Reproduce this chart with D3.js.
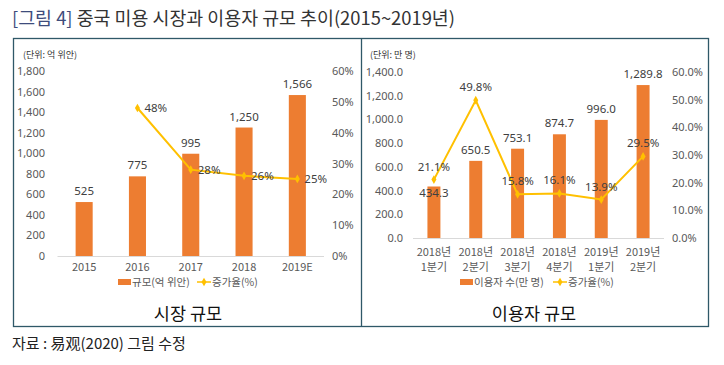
<!DOCTYPE html>
<html>
<head>
<meta charset="utf-8">
<script src="https://cdn.jsdelivr.net/npm/d3@7"></script>
<style>
  body { margin: 0; background: #fff; }
  svg { font-family: "Noto Sans CJK KR", "Noto Sans", sans-serif; }
</style>
</head>
<body>
<svg width="724" height="365"></svg>
<script>
// market size (억 위안) and growth
var years = ["2015", "2016", "2017", "2018", "2019E"];
var marketSize = [525, 775, 995, 1250, 1566];
var marketGrowth = [null, 48, 28, 26, 25];

// users (만 명) by quarter
var quarters = ["2018년|1분기", "2018년|2분기", "2018년|3분기", "2018년|4분기", "2019년|1분기", "2019년|2분기"];
var userCount = [434.3, 650.5, 753.1, 874.7, 996.0, 1289.8];
var userGrowth = [21.1, 49.8, 15.8, 16.1, 13.9, 29.5];

var barColor = "#ED7D31",
    lineColor = "#FFC000",
    textColor = "#595959";

var svg = d3.select("svg");

// title
var title = svg.append("text")
    .attr("x", 12).attr("y", 25)
    .attr("textLength", 443).attr("lengthAdjust", "spacingAndGlyphs")
    .style("font-size", "18px")
    .attr("fill", "#333");
title.append("tspan").attr("fill", "#3E4C7C").text("[그림 4]");
title.append("tspan").text(" 중국 미용 시장과 이용자 규모 추이(2015~2019년)");

// frame
svg.append("rect")
    .attr("x", 13.5).attr("y", 38.5)
    .attr("width", 695).attr("height", 288)
    .attr("fill", "none").attr("stroke", "#2F5868").attr("stroke-width", 1.3);
svg.append("line")
    .attr("x1", 361.5).attr("x2", 361.5).attr("y1", 38.5).attr("y2", 326.5)
    .attr("stroke", "#2F5868").attr("stroke-width", 1.3);

svg.append("text")
    .attr("x", 12).attr("y", 349)
    .style("font-size", "15px").attr("fill", "#222")
    .text("자료 : 易观(2020) 그림 수정");

function diamond(sel, x, y) {
    sel.append("path")
        .attr("d", d3.symbol(d3.symbolDiamond, 22)())
        .attr("transform", "translate(" + x + "," + y + ")")
        .attr("fill", lineColor);
}

function drawChart(cfg) {
    var g = svg.append("g");

    var x = d3.scaleBand().domain(cfg.cats).range(cfg.xRange)
        .paddingInner(cfg.pad).paddingOuter(cfg.pad / 2);
    var y = d3.scaleLinear().domain([0, cfg.yMax]).range(cfg.yRange);
    var y2 = d3.scaleLinear().domain([0, 60]).range(cfg.yRange);

    // unit label
    g.append("text")
        .attr("x", cfg.unitX).attr("y", 58)
        .style("font-size", "9px").attr("fill", "#333")
        .text(cfg.unit);

    // left axis
    var leftAxis = d3.axisLeft(y).tickValues(d3.range(0, cfg.yMax + 1, 200))
        .tickFormat(cfg.yFmt).tickSize(0).tickPadding(0);
    var la = g.append("g")
        .attr("transform", "translate(" + cfg.leftLabelX + ",0)")
        .call(leftAxis);
    la.select(".domain").remove();
    la.selectAll("text").style("font-size", "11px").attr("fill", textColor)
        .style("font-family", "'Noto Sans', sans-serif");

    // right axis
    var rightAxis = d3.axisRight(y2).tickValues(d3.range(0, 61, 10))
        .tickFormat(cfg.y2Fmt).tickSize(0).tickPadding(0);
    var ra = g.append("g")
        .attr("transform", "translate(" + cfg.rightLabelX + ",0)")
        .call(rightAxis);
    ra.select(".domain").remove();
    ra.selectAll("text").style("font-size", "11px").attr("fill", textColor)
        .style("font-family", "'Noto Sans', sans-serif");

    // baseline
    g.append("line")
        .attr("x1", cfg.xRange[0]).attr("x2", cfg.xRange[1])
        .attr("y1", y(0) + 0.5).attr("y2", y(0) + 0.5)
        .attr("stroke", "#D9D9D9");

    // bars
    g.selectAll(".bar").data(cfg.bars).enter().append("rect")
        .attr("x", function(d, i) { return x(cfg.cats[i]); })
        .attr("y", function(d) { return y(d); })
        .attr("width", x.bandwidth())
        .attr("height", function(d) { return y(0) - y(d); })
        .attr("fill", barColor);

    // bar labels
    g.selectAll(".blab").data(cfg.bars).enter().append("text")
        .attr("x", function(d, i) { return x(cfg.cats[i]) + x.bandwidth() / 2; })
        .attr("y", function(d, i) { return y(d) - 7 + (cfg.barLabelShift[i] || 0); })
        .attr("text-anchor", "middle")
        .style("font-size", "11.5px").attr("fill", "#404040")
        .style("font-family", "'Noto Sans', sans-serif")
        .text(function(d) { return cfg.barFmt(d); });

    // growth line
    var pts = cfg.growth.map(function(v, i) {
        return v == null ? null : [x(cfg.cats[i]) + x.bandwidth() / 2, y2(v), v];
    }).filter(function(p) { return p; });

    g.append("path")
        .attr("d", d3.line()(pts.map(function(p) { return [p[0], p[1]]; })))
        .attr("fill", "none").attr("stroke", lineColor).attr("stroke-width", 2);
    pts.forEach(function(p) { diamond(g, p[0], p[1]); });

    g.selectAll(".glab").data(pts).enter().append("text")
        .attr("x", function(p) { return p[0] + cfg.glDx; })
        .attr("y", function(p) { return p[1] + cfg.glDy; })
        .attr("text-anchor", cfg.glAnchor)
        .style("font-size", "11.5px").attr("fill", "#404040")
        .style("font-family", "'Noto Sans', sans-serif")
        .text(function(p) { return cfg.gFmt(p[2]); });

    // category labels
    var xl = g.selectAll(".xl").data(cfg.cats).enter().append("text")
        .attr("x", function(d) { return x(d) + x.bandwidth() / 2; })
        .attr("y", cfg.xLabelY)
        .attr("text-anchor", "middle")
        .style("font-size", "11px").attr("fill", textColor);
    xl.each(function(d) {
        var parts = d.split("|");
        var t = d3.select(this);
        parts.forEach(function(s, k) {
            t.append("tspan")
                .attr("x", t.attr("x"))
                .attr("dy", k === 0 ? 0 : 15)
                .text(s);
        });
    });

    // legend
    var lg = g.append("g").attr("transform", "translate(" + cfg.legendX + "," + cfg.legendY + ")");
    lg.append("rect").attr("x", 0).attr("y", -3).attr("width", 13).attr("height", 6).attr("fill", barColor);
    lg.append("text").attr("x", 14).attr("y", 4)
        .style("font-size", "10.5px").attr("fill", textColor).text(cfg.legendBar);
    lg.append("line").attr("x1", cfg.legendLineX).attr("x2", cfg.legendLineX + 14)
        .attr("y1", 0).attr("y2", 0).attr("stroke", lineColor).attr("stroke-width", 1.5);
    diamond(lg, cfg.legendLineX + 7, 0);
    lg.append("text").attr("x", cfg.legendLineX + 15).attr("y", 4)
        .style("font-size", "10.5px").attr("fill", textColor).text("증가율(%)");

    // subtitle
    g.append("text")
        .attr("x", cfg.subX).attr("y", 320)
        .attr("text-anchor", "middle")
        .style("font-size", "17.5px").attr("fill", "#111")
        .text(cfg.sub);
}

drawChart({
    cats: years, bars: marketSize, growth: marketGrowth,
    xRange: [57.5, 324], pad: 0.68,
    yMax: 1800, yRange: [256, 71],
    yFmt: d3.format(","), y2Fmt: function(d) { return d + "%"; },
    barFmt: d3.format(","), gFmt: function(v) { return v + "%"; },
    barLabelShift: [],
    glDx: 7, glDy: 4, glAnchor: "start",
    leftLabelX: 45, rightLabelX: 332,
    unit: "(단위: 억 위안)", unitX: 23,
    xLabelY: 271,
    legendX: 118, legendY: 282, legendLineX: 79, legendBar: "규모(억 위안)",
    sub: "시장 규모", subX: 188
});

drawChart({
    cats: quarters, bars: userCount, growth: userGrowth,
    xRange: [413, 664], pad: 0.69,
    yMax: 1400, yRange: [238, 72],
    yFmt: d3.format(",.1f"), y2Fmt: function(d) { return d3.format(".1f")(d) + "%"; },
    barFmt: d3.format(",.1f"), gFmt: function(v) { return d3.format(".1f")(v) + "%"; },
    barLabelShift: [17],
    glDx: 0, glDy: -9, glAnchor: "middle",
    leftLabelX: 403, rightLabelX: 672,
    unit: "(단위: 만 명)", unitX: 370,
    xLabelY: 256,
    legendX: 460, legendY: 282, legendLineX: 93, legendBar: "이용자 수(만 명)",
    sub: "이용자 규모", subX: 534
});
</script>
</body>
</html>
